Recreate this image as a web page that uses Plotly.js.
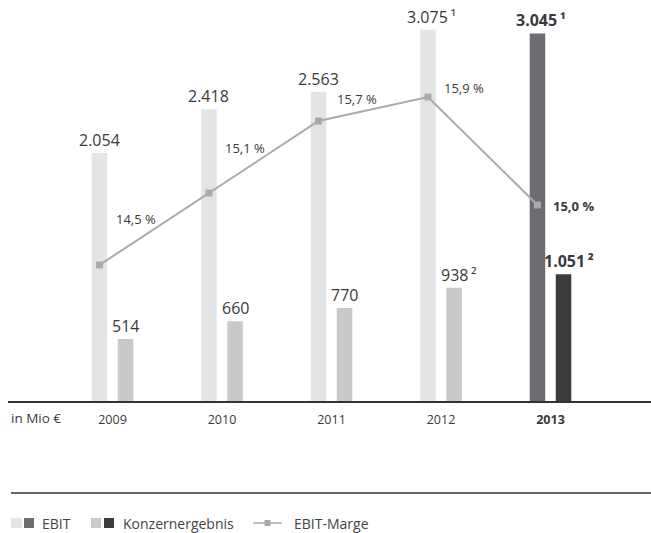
<!DOCTYPE html>
<html><head><meta charset="utf-8">
<script src="https://cdn.plot.ly/plotly-3.0.1.min.js"></script>
<style>html,body{margin:0;padding:0;background:#fff}#chart{width:651px;height:533px}</style>
</head><body><div id="chart"></div>
<script>
// ---- data ----
const years = ['2009','2010','2011','2012','2013'];
const ebit = [2054, 2418, 2563, 3075, 3045];
const konzern = [514, 660, 770, 938, 1051];
const marge = [14.5, 15.1, 15.7, 15.9, 15.0];
const ebitLabels = ['2.054','2.418','2.563','3.075','3.045'];
const ebitNotes = ['','','','¹','¹'];
const konzernLabels = ['514','660','770','938','1.051'];
const konzernNotes = ['','','','²','²'];
const margeLabels = ['14,5 %','15,1 %','15,7 %','15,9 %','15,0 %'];
const unitLabel = 'in Mio €';
const legendNames = ['EBIT','Konzernergebnis','EBIT-Marge'];

// ---- styling ----
const FONT = 'Open Sans, sans-serif';
const TXT = '#3a3a3a';
const ebitColors = ['#e3e4e6','#e3e4e6','#e3e4e6','#e3e4e6','#6c6d71'];
const konzColors = ['#c8c9cb','#c8c9cb','#c8c9cb','#c8c9cb','#3c3c3c'];
const lineColor = '#a9aaac';
const barW = 0.142, barShift = 0.119;
const bold = [false,false,false,false,true];
// marge label pixel offsets (dx from point, dy upward)
const mDx = [15, 14, 17, 14, 14];
const mDy = [46, 45, 22, 9, -1];

const L = 8, W = 643, T = 10, H = 391;
const px2x = p => (p - L) / W;
const py2y = p => (T + H - p) / H;

const idx = years.map((_, i) => i);
const traces = [
  {type:'bar', x: idx, y: ebit, width: barW, offset: -barShift - barW/2,
   marker:{color: ebitColors}, hoverinfo:'skip', showlegend:false},
  {type:'bar', x: idx, y: konzern, width: barW, offset: barShift - barW/2,
   marker:{color: konzColors}, hoverinfo:'skip', showlegend:false},
  {type:'scatter', mode:'lines+markers', x: idx.map(i => i - barShift), y: marge, yaxis:'y2',
   line:{color: lineColor, width: 2}, marker:{symbol:'square', size:7, color: lineColor},
   hoverinfo:'skip', showlegend:false}
];

const wrap = (s, b) => b ? '<b>' + s + '</b>' : s;
const sup = n => n ? '\u2009' + n : '';
const ann = [];
idx.forEach(i => {
  ann.push({x: i - barShift, y: ebit[i], xref:'x', yref:'y', yanchor:'bottom', xanchor:'center',
    text: wrap(ebitLabels[i] + sup(ebitNotes[i]), bold[i]), showarrow:false, yshift: 0,
    xshift: ebitNotes[i] ? 4 : 0, font:{family:FONT, size:16, color:TXT}});
  ann.push({x: i + barShift, y: konzern[i], xref:'x', yref:'y', yanchor:'bottom', xanchor:'center',
    text: wrap(konzernLabels[i] + sup(konzernNotes[i]), bold[i]), showarrow:false, yshift: 0,
    xshift: konzernNotes[i] ? 5 : 0, font:{family:FONT, size:16, color:TXT}});
  ann.push({x: i - barShift, y: marge[i], xref:'x', yref:'y2', yanchor:'middle', xanchor:'left',
    text: wrap(margeLabels[i], bold[i]), showarrow:false, xshift: mDx[i], yshift: mDy[i],
    font:{family:FONT, size:13, color:TXT}});
});
ann.push({x: px2x(9), y: py2y(418), xref:'paper', yref:'paper', xanchor:'left', yanchor:'middle',
  text: unitLabel, showarrow:false, font:{family:FONT, size:13.5, color:TXT}});

// legend
const shapes = [
  {type:'line', xref:'paper', yref:'paper', x0: px2x(11), x1: px2x(651), y0: py2y(493), y1: py2y(493),
   line:{color:'#333', width:1.5}}
];
const sq = (a, b, c) => ({type:'rect', xref:'paper', yref:'paper', x0: px2x(a), x1: px2x(b),
  y0: py2y(528), y1: py2y(518), fillcolor: c, line:{width:0}});
shapes.push(sq(11, 22, ebitColors[0]), sq(24, 34, ebitColors[4]),
            sq(91, 101, konzColors[0]), sq(104, 114, konzColors[4]));
shapes.push({type:'line', xref:'paper', yref:'paper', x0: px2x(253), x1: px2x(282), y0: py2y(523), y1: py2y(523),
  line:{color: lineColor, width:1.5}});
shapes.push({type:'rect', xref:'paper', yref:'paper', x0: px2x(264.5), x1: px2x(270.5), y0: py2y(526), y1: py2y(520),
  fillcolor: lineColor, line:{width:0}});
[[40, legendNames[0]], [121, legendNames[1]], [292, legendNames[2]]].forEach(([p, t]) => {
  ann.push({x: px2x(p), y: py2y(523), xref:'paper', yref:'paper', xanchor:'left', yanchor:'middle',
    text: t, showarrow:false, font:{family:FONT, size:14, color:'#444'}});
});

const layout = {
  width: 651, height: 533,
  margin: {l: L, r: 651 - L - W, t: T, b: 533 - T - H, pad: 0},
  paper_bgcolor:'#fff', plot_bgcolor:'#fff',
  showlegend:false,
  xaxis: {range: [-104.5/109.5, -104.5/109.5 + W/109.5], tickvals: idx,
    ticktext: years.map((y, i) => wrap(y, bold[i])), showgrid:false, zeroline:false,
    showline:true, linecolor:'#333', linewidth:1.5, ticks:'', ticklabelstandoff: 6,
    tickfont:{family:FONT, size:12.5, color:TXT}, fixedrange:true},
  yaxis: {range: [0, H/0.1207], visible:false, fixedrange:true},
  yaxis2: {range: [14.5 - 136/120, 14.5 - 136/120 + H/120], overlaying:'y', visible:false, fixedrange:true},
  annotations: ann, shapes: shapes
};
Plotly.newPlot('chart', traces, layout, {staticPlot:true});
</script></body></html>
